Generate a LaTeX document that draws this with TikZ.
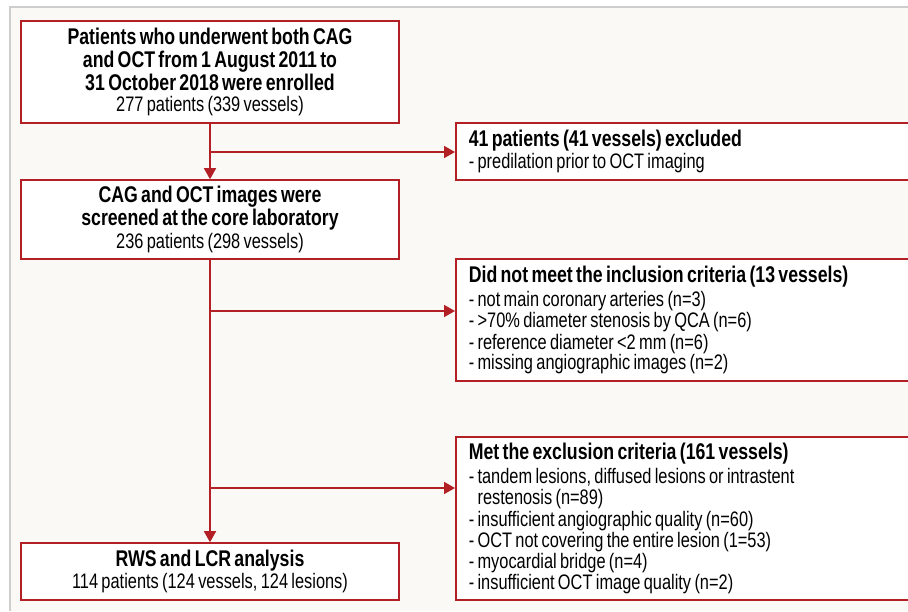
\documentclass[tikz,border=0pt]{standalone}
\usepackage{fontspec}
\setmainfont{Liberation Sans}[FakeStretch=0.78]
\usetikzlibrary{arrows.meta}
\definecolor{boxred}{RGB}{178,32,38}
\definecolor{bgcream}{RGB}{250,249,246}
\definecolor{framegray}{RGB}{205,205,205}
\newcommand\ttlfont{\fontsize{22.7}{21.3}\selectfont\bfseries}
\newcommand\bdyfont{\fontsize{21}{21.3}\selectfont\mdseries}
\begin{document}
\begin{tikzpicture}[x=1pt,y=-1pt,
  box/.style={draw=boxred, line width=1.6pt, fill=white, inner sep=0pt},
  mainbox/.style={box, text width=378pt, align=center},
  sidebox/.style={box, anchor=west, text width=439pt, inner xsep=13pt, align=left},
  arr/.style={draw=boxred, line width=1.6pt, -{Triangle[length=11pt,width=12pt]}}]
\clip (0,0) rectangle (908,611);
\fill[white] (0,0) rectangle (908,611);
\fill[bgcream] (10,7) rectangle (908,611);
\draw[framegray, line width=1.5pt] (10,611) -- (10,7) -- (908,7);

\node[mainbox, minimum height=102pt] (enrol) at (210,72)
  {\ttlfont Patients who underwent both CAG\\[1.7pt]
   and OCT from 1 August 2011 to\\[1.7pt]
   31 October 2018 were enrolled\\[3.7pt]
   \bdyfont 277 patients (339 vessels)};
\node[mainbox, minimum height=79pt] (screen) at (210,219.5)
  {\ttlfont CAG and OCT images were\\[1.7pt]
   screened at the core laboratory\\[1.7pt]
   \bdyfont 236 patients (298 vessels)};
\node[mainbox, minimum height=57pt] (final) at (210,571.5)
  {\ttlfont RWS and LCR analysis\\[0.7pt]
   \bdyfont 114 patients (124 vessels, 124 lesions)};

\node[sidebox, minimum height=57pt] (excl1) at (455,151.5)
  {\ttlfont 41 patients (41 vessels) excluded\\[0.7pt]
   \bdyfont - predilation prior to OCT imaging};
\node[sidebox, minimum height=122pt] (incl) at (455,320)
  {\ttlfont Did not meet the inclusion criteria (13 vessels)\\[2.7pt]
   \bdyfont - not main coronary arteries (n=3)\\
   - >70\% diameter stenosis by QCA (n=6)\\
   - reference diameter <2 mm (n=6)\\
   - missing angiographic images (n=2)};
\node[sidebox, minimum height=163pt] (excl2) at (455,518.5)
  {\ttlfont Met the exclusion criteria (161 vessels)\\[2.7pt]
   \bdyfont - tandem lesions, diffused lesions or intrastent\\
   \hphantom{- }restenosis (n=89)\\
   - insufficient angiographic quality (n=60)\\
   - OCT not covering the entire lesion (1=53)\\
   - myocardial bridge (n=4)\\
   - insufficient OCT image quality (n=2)};

\coordinate (b1) at (210,152);
\coordinate (b2) at (210,311);
\coordinate (b3) at (210,488);
\draw[arr] (enrol.south) -- (screen.north);
\draw[arr] (b1) -- (b1 -| excl1.west);
\draw[arr] (screen.south) -- (final.north);
\draw[arr] (b2) -- (b2 -| incl.west);
\draw[arr] (b3) -- (b3 -| excl2.west);
\end{tikzpicture}
\end{document}
